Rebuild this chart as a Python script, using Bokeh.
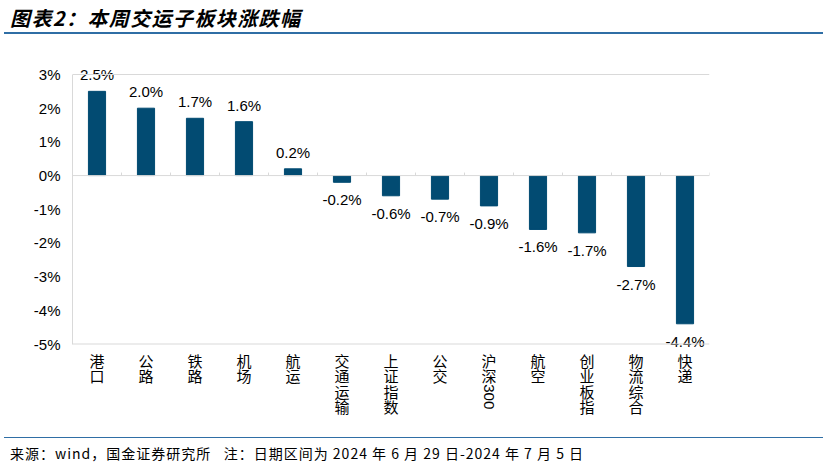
import math
from bokeh.plotting import figure
from bokeh.models import Range1d, FixedTicker, Span, Div, ColumnDataSource
from bokeh.layouts import column
from bokeh.embed import file_html
from bokeh.resources import INLINE
from bokeh.core.properties import value

categories = ["港口", "公路", "铁路", "机场", "航运", "交通运输", "上证指数",
              "公交", "沪深300", "航空", "创业板指", "物流综合", "快递"]
changes = [2.5, 2.0, 1.7, 1.6, 0.2, -0.2, -0.6, -0.7, -0.9, -1.6, -1.7, -2.7, -4.4]
y_ticks = [-5, -4, -3, -2, -1, 0, 1, 2, 3]
y_tick_labels = [f"{t}%" for t in y_ticks]
title_text = "图表2：本周交运子板块涨跌幅"
source_text = ("来源：wind，国金证券研究所&nbsp;&nbsp;&nbsp;注：日期区间为 2024 年 6 月 29 日"
               "-2024 年 7 月 5 日")

BAR = "#024B72"
GRID = "#D9D9D9"
LINE = "#2F6EA5"
CJK = "Noto Sans CJK SC"
LAT = "Liberation Sans"

# layout in pixels
LEFT = 4
FIG_W, FIG_H = 819, 403
TOP_PAD, PLOT_H = 40, 269.5
BOT_PAD = FIG_H - TOP_PAD - PLOT_H
AX_LEFT, AX_RIGHT = 68, 114
ymin, ymax = y_ticks[0], y_ticks[-1]
ppu = PLOT_H / (ymax - ymin)

xs = list(range(len(categories)))

p = figure(width=FIG_W, height=FIG_H, x_range=Range1d(-0.5, len(categories) - 0.5),
           y_range=Range1d(ymin - BOT_PAD / ppu, ymax + TOP_PAD / ppu),
           output_backend="svg", toolbar_location=None, margin=(0, 0, 0, 0),
           min_border_left=AX_LEFT, min_border_right=AX_RIGHT, min_border_top=0, min_border_bottom=0)
p.xgrid.visible = False
p.ygrid.visible = False
p.xaxis.visible = False
p.outline_line_color = None
p.background_fill_color = "white"
p.border_fill_color = "white"

# y axis
p.yaxis.ticker = FixedTicker(ticks=y_ticks)
p.yaxis.bounds = (ymin, ymax)
p.yaxis.major_label_overrides = {t: l for t, l in zip(y_ticks, y_tick_labels)}
p.yaxis.axis_line_color = GRID
p.yaxis.major_tick_in = 0
p.yaxis.major_tick_out = 0
p.yaxis.minor_tick_line_color = None
p.yaxis.major_label_text_font = LAT
p.yaxis.major_label_text_font_size = "15px"
p.yaxis.major_label_text_color = "#000000"
p.yaxis.major_label_standoff = 12

# horizontal lines at top, zero and bottom
for loc in (ymax, 0, ymin):
    p.add_layout(Span(location=loc, dimension="width", line_color=GRID, line_width=1))

bounds = [i - 0.5 for i in range(len(categories) + 1)]
p.segment(x0=bounds, y0=[0] * len(bounds), x1=bounds, y1=[3 / ppu] * len(bounds),
          line_color=GRID, line_width=1)

p.vbar(x=xs, top=changes, bottom=0, width=0.35, fill_color=BAR, line_color=BAR)

pos = ColumnDataSource(dict(x=[x for x, v in zip(xs, changes) if v >= 0],
                            y=[v for v in changes if v >= 0],
                            t=[f"{v:.1f}%" for v in changes if v >= 0]))
neg = ColumnDataSource(dict(x=[x for x, v in zip(xs, changes) if v < 0],
                            y=[v for v in changes if v < 0],
                            t=[f"{v:.1f}%" for v in changes if v < 0]))
p.text(x="x", y="y", text="t", source=pos, text_align="center", text_baseline="bottom",
       y_offset=-8, text_font=value(LAT), text_font_size="15px", text_color="#000000")
p.text(x="x", y="y", text="t", source=neg, text_align="center", text_baseline="top",
       y_offset=9, text_font=value(LAT), text_font_size="15px", text_color="#000000")

# category labels: stacked CJK characters, digit runs rotated
cx, cy, cch, coff = [], [], [], []
rx, ry, rtxt, roff = [], [], [], []
PITCH, FIRST = 15.5, 16
for i, c in enumerate(categories):
    j = 0
    k = 0
    while k < len(c):
        if c[k].isdigit():
            run = ""
            while k < len(c) and c[k].isdigit():
                run += c[k]
                k += 1
            rx.append(i); ry.append(ymin); rtxt.append(run)
            roff.append(FIRST + j * PITCH - PITCH / 2 + 1)
        else:
            cx.append(i); cy.append(ymin); cch.append(c[k])
            coff.append(FIRST + j * PITCH)
            j += 1
            k += 1

p.text(x="x", y="y", text="t", y_offset="o",
       source=ColumnDataSource(dict(x=cx, y=cy, t=cch, o=coff)),
       text_align="center", text_baseline="middle", text_font=value(CJK),
       text_font_size="15px", text_color="#000000")
p.text(x="x", y="y", text="t", y_offset="o",
       source=ColumnDataSource(dict(x=rx, y=ry, t=rtxt, o=roff)),
       angle=-math.pi / 2, text_align="left", text_baseline="middle", text_font=value(LAT),
       text_font_size="15px", text_color="#000000")

title_div = Div(text=f"<div style='font-family:\"{CJK}\";font-size:20px;font-weight:bold;"
                     f"font-style:italic;letter-spacing:1.4px;color:#000;padding-left:6px;"
                     f"padding-top:7px;line-height:22px;white-space:nowrap;'>{title_text}</div>",
                width=FIG_W, height=34, margin=(0, 0, 0, 0),
                styles={"border-bottom": f"2px solid {LINE}", "box-sizing": "border-box"})
foot_div = Div(text=f"<div style='font-family:\"{CJK}\";font-size:14px;color:#000;letter-spacing:1px;"
                    f"padding-left:6px;padding-top:6px;line-height:18px;white-space:nowrap;'>{source_text}</div>",
               width=FIG_W, height=29, margin=(0, 0, 0, 0),
               styles={"border-top": f"1px solid {LINE}", "box-sizing": "border-box"})

layout = column(title_div, p, foot_div, spacing=0, margin=(0, 0, 0, LEFT))
open("out.html", "w").write(file_html(layout, INLINE))
